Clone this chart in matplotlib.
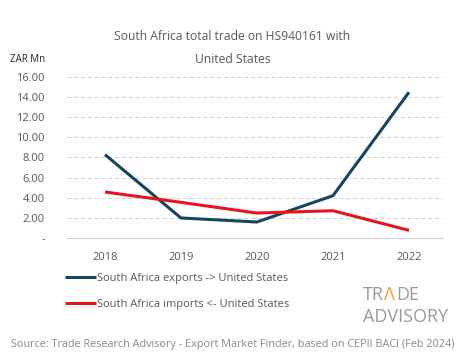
import matplotlib.pyplot as plt

years = ["2018", "2019", "2020", "2021", "2022"]
exports = [8.28, 1.99, 1.59, 4.20, 14.47]
imports = [4.57, 3.54, 2.48, 2.71, 0.76]
yticks = [0, 2, 4, 6, 8, 10, 12, 14, 16]
ytick_labels = ["-"] + [f"{v:.2f}" for v in yticks[1:]]

plt.rcParams['font.family'] = ['Open Sans', 'DejaVu Sans']
grey = '#595959'

fig = plt.figure(figsize=(4.65, 3.59), dpi=100)
ax = fig.add_axes([0.144, 0.337, 0.809, 0.449])

x = range(len(years))
ax.plot(x, exports, color='#17455b', lw=2.2, solid_capstyle='butt',
        label='South Africa exports -> United States')
ax.plot(x, imports, color='#e8141c', lw=2.2, solid_capstyle='butt',
        label='South Africa imports <- United States')

ax.set_xlim(-0.5, 4.45)
ax.set_ylim(0, 16)
ax.set_yticks(yticks)
ax.set_yticklabels(ytick_labels)
ax.set_xticks(list(x))
ax.set_xticklabels(years)
ax.tick_params(length=0, labelsize=8, colors=grey)
ax.tick_params(axis='y', pad=16)
ax.tick_params(axis='x', pad=10)
ax.yaxis.grid(True, color='#d0d0d0', ls=(0, (4, 3)), lw=0.7)
for s in ['top', 'right', 'left']:
    ax.spines[s].set_visible(False)
ax.spines['bottom'].set_color('#d0d0d0')
ax.set_axisbelow(True)

fig.text(0.5, 0.897, "South Africa total trade on HS940161 with", ha='center',
         va='center', fontsize=8.7, color=grey)
fig.text(0.5, 0.835, "United States", ha='center', va='center', fontsize=8.7, color=grey)
fig.text(0.022, 0.833, "ZAR Mn", ha='left', va='center', fontsize=7, color='#222222')

fig.legend(loc='upper left', bbox_to_anchor=(0.118, 0.268), frameon=False,
           fontsize=8, labelcolor=grey, handlelength=2.8, handletextpad=0.1,
           labelspacing=1.4)

# logo
fig.text(0.781, 0.178, "TR", fontsize=13, color='#9a9a9a', ha='left', va='center')
fig.text(0.825, 0.178, "\u039b", fontsize=13, color='#f0a030', ha='left', va='center')
fig.text(0.853, 0.178, "DE", fontsize=13, color='#9a9a9a', ha='left', va='center')
fig.text(0.781, 0.116, "ADVISORY", fontsize=13, color='#9a9a9a', ha='left', va='center')
fig.text(0.5, 0.04, "Source: Trade Research Advisory - Export Market Finder, based on CEPII BACI (Feb 2024)",
         ha='center', va='center', fontsize=7.8, color='#8a8a8a')

fig.savefig('out.png', dpi=100)
